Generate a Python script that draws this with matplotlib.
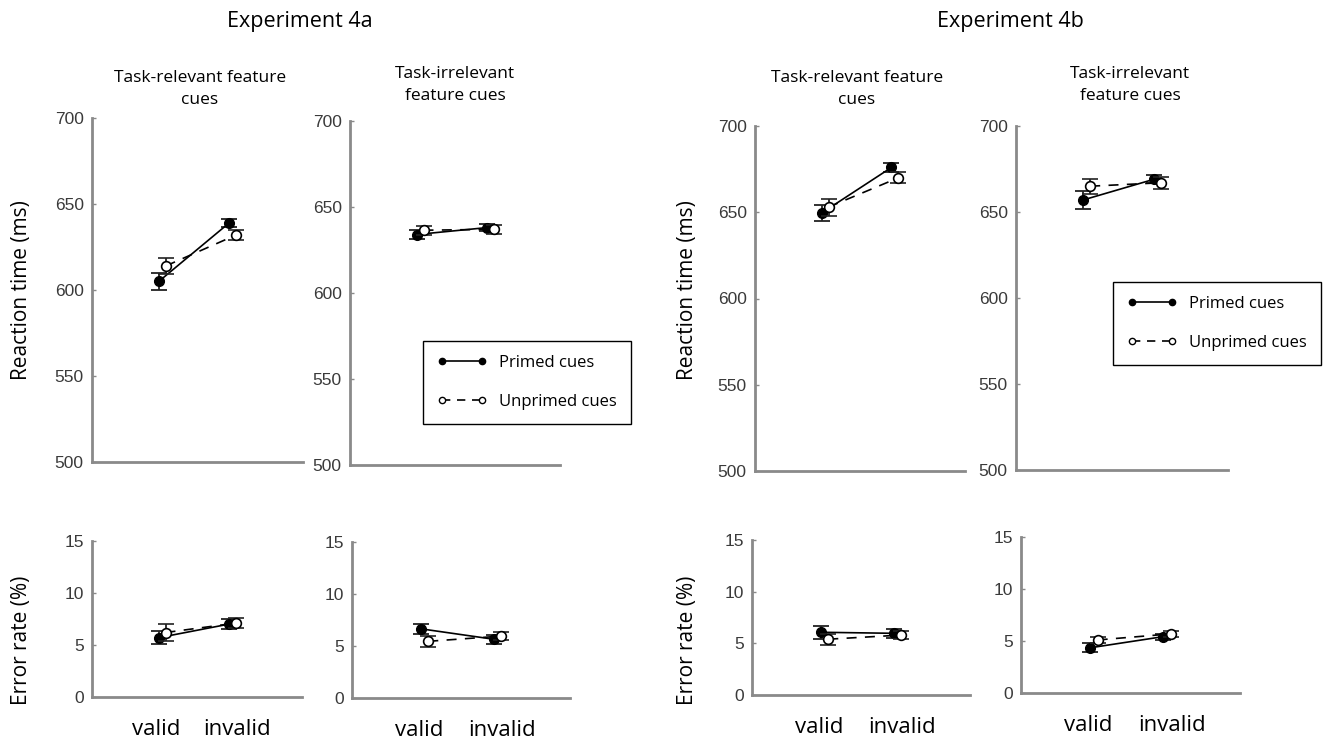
import matplotlib
matplotlib.use('Agg')
import matplotlib.pyplot as plt
from matplotlib.lines import Line2D

W, H = 1325, 743

# x categories
conditions = ['valid', 'invalid']
x_pos = [1, 2]
label_pos = [0.92, 2.07]
offset = 0.05

# Reaction time (ms): means and error bars
rt_4a_rel_primed = [605, 639]
rt_4a_rel_primed_err = [4.8, 2.5]
rt_4a_rel_unprimed = [614, 632]
rt_4a_rel_unprimed_err = [4.5, 2.9]
rt_4a_irr_primed = [634, 638]
rt_4a_irr_primed_err = [2.5, 2.2]
rt_4a_irr_unprimed = [636.5, 637]
rt_4a_irr_unprimed_err = [2.5, 2.5]
rt_4b_rel_primed = [649.5, 676]
rt_4b_rel_primed_err = [4.7, 2.5]
rt_4b_rel_unprimed = [653, 670]
rt_4b_rel_unprimed_err = [4.9, 3.3]
rt_4b_irr_primed = [657, 669]
rt_4b_irr_primed_err = [5.3, 2.3]
rt_4b_irr_unprimed = [665, 667]
rt_4b_irr_unprimed_err = [4.4, 3.4]

# Error rate (%)
er_4a_rel_primed = [5.7, 7.0]
er_4a_rel_primed_err = [0.65, 0.5]
er_4a_rel_unprimed = [6.2, 7.1]
er_4a_rel_unprimed_err = [0.8, 0.5]
er_4a_irr_primed = [6.65, 5.65]
er_4a_irr_primed_err = [0.5, 0.45]
er_4a_irr_unprimed = [5.45, 5.95]
er_4a_irr_unprimed_err = [0.55, 0.35]
er_4b_rel_primed = [6.07, 5.97]
er_4b_rel_primed_err = [0.63, 0.45]
er_4b_rel_unprimed = [5.4, 5.8]
er_4b_rel_unprimed_err = [0.55, 0.4]
er_4b_irr_primed = [4.35, 5.42]
er_4b_irr_primed_err = [0.45, 0.3]
er_4b_irr_unprimed = [5.1, 5.68]
er_4b_irr_unprimed_err = [0.33, 0.3]

rt_ticks = [500, 550, 600, 650, 700]
er_ticks = [0, 5, 10, 15]

text_font = ['Open Sans', 'DejaVu Sans']
num_font = ['Liberation Sans', 'DejaVu Sans']
spine_col = '#8a8a8a'

fig = plt.figure(figsize=(W / 100, H / 100), dpi=100)


def px_axes(x0, x1, ytop, ybot):
    return fig.add_axes([x0 / W, 1 - ybot / H, (x1 - x0) / W, (ybot - ytop) / H])


def draw_panel(ax, primed, primed_err, unprimed, unprimed_err, ylim, yticks, show_x):
    xp = [x - offset for x in x_pos]
    xu = [x + offset for x in x_pos]
    ax.errorbar(xp, primed, yerr=primed_err, color='black', ecolor='#222222',
                linestyle='-', linewidth=1.2, elinewidth=1.3, capsize=6, capthick=1.3,
                marker='o', markersize=7, markerfacecolor='black', markeredgecolor='black', zorder=3)
    ax.errorbar(xu, unprimed, yerr=unprimed_err, color='black', ecolor='#222222',
                linestyle=(0, (6, 5)), linewidth=1.2, elinewidth=1.3, capsize=6, capthick=1.3,
                marker='o', markersize=7, markerfacecolor='white', markeredgecolor='black',
                markeredgewidth=1.2, zorder=4)
    ax.set_xlim(0, 3)
    ax.set_ylim(*ylim)
    ax.set_yticks(yticks)
    ax.set_yticklabels([str(t) for t in yticks], family=num_font, fontsize=12.5, color='#3a3a3a')
    for s in ['top', 'right']:
        ax.spines[s].set_visible(False)
    for s in ['left', 'bottom']:
        ax.spines[s].set_color(spine_col)
        ax.spines[s].set_linewidth(2)
    ax.tick_params(axis='y', direction='in', length=3, width=1, color=spine_col, pad=6)
    if show_x:
        ax.set_xticks(label_pos)
        ax.set_xticklabels(conditions, family=text_font, fontsize=16, color='black')
        ax.tick_params(axis='x', length=0, pad=16)
    else:
        ax.set_xticks([])


# top row: reaction times
axA = px_axes(92, 303, 118, 462)
draw_panel(axA, rt_4a_rel_primed, rt_4a_rel_primed_err, rt_4a_rel_unprimed, rt_4a_rel_unprimed_err,
           (500, 700), rt_ticks, False)
axB = px_axes(350, 560, 121, 465)
draw_panel(axB, rt_4a_irr_primed, rt_4a_irr_primed_err, rt_4a_irr_unprimed, rt_4a_irr_unprimed_err,
           (500, 700), rt_ticks, False)
axC = px_axes(755, 965, 126, 471)
draw_panel(axC, rt_4b_rel_primed, rt_4b_rel_primed_err, rt_4b_rel_unprimed, rt_4b_rel_unprimed_err,
           (500, 700), rt_ticks, False)
axD = px_axes(1016, 1228, 126, 470)
draw_panel(axD, rt_4b_irr_primed, rt_4b_irr_primed_err, rt_4b_irr_unprimed, rt_4b_irr_unprimed_err,
           (500, 700), rt_ticks, False)

# bottom row: error rates
axE = px_axes(92, 302, 541, 697)
draw_panel(axE, er_4a_rel_primed, er_4a_rel_primed_err, er_4a_rel_unprimed, er_4a_rel_unprimed_err,
           (0, 15), er_ticks, True)
axF = px_axes(352, 570, 542, 698)
draw_panel(axF, er_4a_irr_primed, er_4a_irr_primed_err, er_4a_irr_unprimed, er_4a_irr_unprimed_err,
           (0, 15), er_ticks, True)
axG = px_axes(752, 970, 540, 695)
draw_panel(axG, er_4b_rel_primed, er_4b_rel_primed_err, er_4b_rel_unprimed, er_4b_rel_unprimed_err,
           (0, 15), er_ticks, True)
axH = px_axes(1021, 1240, 537, 693)
draw_panel(axH, er_4b_irr_primed, er_4b_irr_primed_err, er_4b_irr_unprimed, er_4b_irr_unprimed_err,
           (0, 15), er_ticks, True)

# legends
handles = [Line2D([0], [0], color='black', linestyle='-', linewidth=1.2, marker='o',
                  markersize=4.5, markerfacecolor='black', markeredgecolor='black'),
           Line2D([0], [0], color='black', linestyle=(0, (5, 4)), linewidth=1.2, marker='o',
                  markersize=4.5, markerfacecolor='white', markeredgecolor='black')]
labels = ['Primed cues', 'Unprimed cues']
for ax, (lx, ly) in [(axB, (423, 341)), (axD, (1113, 282))]:
    leg = ax.legend(handles, labels, loc='upper left', bbox_to_anchor=(lx / W, 1 - ly / H),
                    bbox_transform=fig.transFigure, numpoints=2, handlelength=3.0,
                    labelspacing=1.35, borderpad=0.85, handletextpad=0.7, borderaxespad=0,
                    fancybox=False, framealpha=1, edgecolor='black',
                    prop={'family': text_font, 'size': 12})
    leg.get_frame().set_linewidth(1.0)

# titles
fig.text(300 / W, 1 - 22 / H, 'Experiment 4a', ha='center', va='center', family=text_font, fontsize=15.5)
fig.text(1010 / W, 1 - 22 / H, 'Experiment 4b', ha='center', va='center', family=text_font, fontsize=15.5)

subtitles = [(200, 89, 'Task-relevant feature\ncues'),
             (455, 85, 'Task-irrelevant\nfeature cues'),
             (857, 89, 'Task-relevant feature\ncues'),
             (1130, 85, 'Task-irrelevant\nfeature cues')]
for sx, sy, st in subtitles:
    fig.text(sx / W, 1 - sy / H, st, ha='center', va='center', family=text_font,
             fontsize=12.5, linespacing=1.45)

# y labels
for yx in [22, 688]:
    fig.text(yx / W, 1 - 290 / H, 'Reaction time (ms)', rotation=90, ha='center', va='center',
             family=text_font, fontsize=15)
    fig.text(yx / W, 1 - 640 / H, 'Error rate (%)', rotation=90, ha='center', va='center',
             family=text_font, fontsize=15)

fig.savefig('out.png', dpi=100, facecolor='white')
